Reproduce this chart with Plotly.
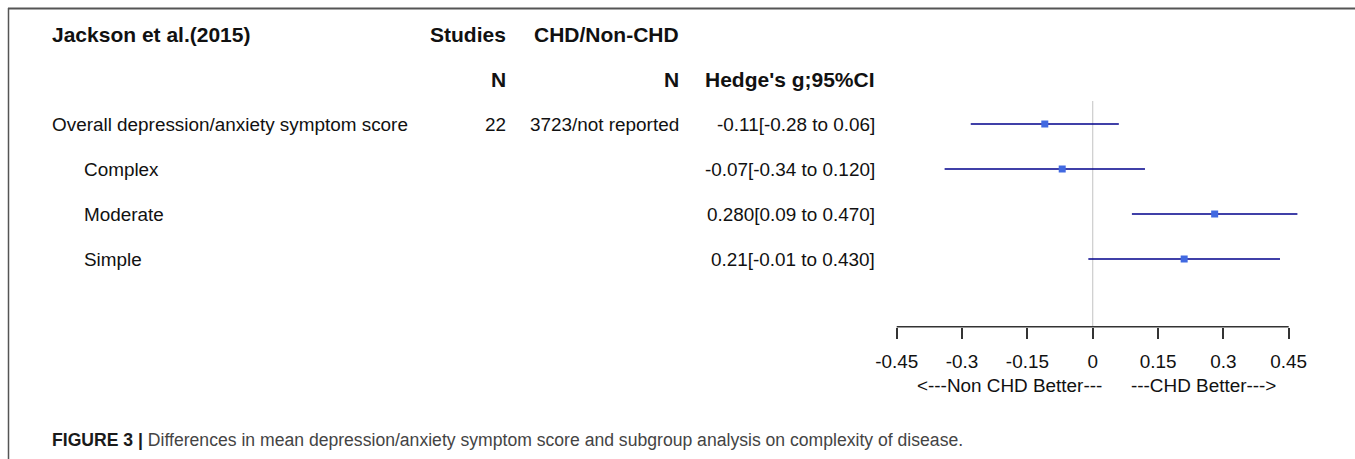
import plotly.graph_objects as go

# ---- data ----
labels = ["Overall depression/anxiety symptom score", "Complex", "Moderate", "Simple"]
indent = [False, True, True, True]
studies = ["22", "", "", ""]
n_chd = ["3723/not reported", "", "", ""]
est = [-0.11, -0.07, 0.28, 0.21]
lo = [-0.28, -0.34, 0.09, -0.01]
hi = [0.06, 0.12, 0.47, 0.43]
ci_text = ["-0.11[-0.28 to 0.06]", "-0.07[-0.34 to 0.120]", "0.280[0.09 to 0.470]", "0.21[-0.01 to 0.430]"]
tick_vals = [-0.45, -0.3, -0.15, 0, 0.15, 0.3, 0.45]
tick_text = ["-0.45", "-0.3", "-0.15", "0", "0.15", "0.3", "0.45"]
x_range = [-0.5, 0.5]

W, H = 1355, 459
FONT = "Liberation Sans, Arial, sans-serif"
FS = 18.9
FSB = 21
TXT = "#111111"

# pixel layout of the scale: 0 at x=1092.7 px, 435.56 px per unit
X0_PX = 1092.7
PX_PER_UNIT = 435.56
AXIS_Y_PX = 326.7

rows = list(range(len(labels)))

fig = go.Figure()

# reference line at 0
fig.add_trace(go.Scatter(x=[0, 0], y=[-0.51, 4.504], mode="lines",
                         line=dict(color="#cccccc", width=1.2), hoverinfo="skip", showlegend=False))

# CIs + points
fig.add_trace(go.Scatter(
    x=est, y=rows, mode="markers",
    marker=dict(symbol="square", size=7, color="#4169e1", line=dict(width=0)),
    error_x=dict(type="data", symmetric=False,
                 array=[h - e for h, e in zip(hi, est)],
                 arrayminus=[e - l for e, l in zip(est, lo)],
                 color="#00008b", thickness=1.7, width=0),
    showlegend=False, hoverinfo="skip"))

ann = []
def px(x):
    return x / W

LEFT = 50      # annotation pad compensation
LEFT_IND = 82
C_STUD = 508
C_N = 681
C_CI = 877

bold_font = dict(size=FSB, color=TXT, family=FONT)
# header
ann.append(dict(x=px(LEFT), y=-2, xref="paper", yref="y", text="<b>Jackson et al.(2015)</b>", xanchor="left", font=bold_font))
ann.append(dict(x=px(C_STUD), y=-2, xref="paper", yref="y", text="<b>Studies</b>", xanchor="right", font=bold_font))
ann.append(dict(x=px(C_N), y=-2, xref="paper", yref="y", text="<b>CHD/Non-CHD</b>", xanchor="right", font=bold_font))
ann.append(dict(x=px(C_STUD), y=-1, xref="paper", yref="y", text="<b>N</b>", xanchor="right", font=bold_font))
ann.append(dict(x=px(C_N), y=-1, xref="paper", yref="y", text="<b>N</b>", xanchor="right", font=bold_font))
ann.append(dict(x=px(C_CI), y=-1, xref="paper", yref="y", text="<b>Hedge's g;95%CI</b>", xanchor="right", font=bold_font))

for i, lab in enumerate(labels):
    ann.append(dict(x=px(LEFT_IND if indent[i] else LEFT), y=i, xref="paper", yref="y", text=lab, xanchor="left"))
    if studies[i]:
        ann.append(dict(x=px(C_STUD), y=i, xref="paper", yref="y", text=studies[i], xanchor="right"))
    if n_chd[i]:
        ann.append(dict(x=px(C_N), y=i, xref="paper", yref="y", text=n_chd[i], xanchor="right"))
    ann.append(dict(x=px(C_CI), y=i, xref="paper", yref="y", text=ci_text[i], xanchor="right"))

# direction labels
ann.append(dict(x=px(1104), y=1 - 385 / H, xref="paper", yref="paper",
                text="<---Non CHD Better---", xanchor="right", yanchor="middle"))
ann.append(dict(x=px(1129), y=1 - 385 / H, xref="paper", yref="paper",
                text="---CHD Better--->", xanchor="left", yanchor="middle"))

# caption
ann.append(dict(x=px(LEFT), y=1 - 440 / H, xref="paper", yref="paper",
                text="<b>FIGURE 3 |</b> <span style='color:#444444'>Differences in mean depression/anxiety symptom score and subgroup analysis on complexity of disease.</span>",
                xanchor="left", yanchor="middle", font=dict(size=17.6, color="#1a1a1a", family=FONT)))

for a in ann:
    a.setdefault("showarrow", False)
    a.setdefault("yanchor", "middle")
    a.setdefault("font", dict(size=FS, color=TXT, family=FONT))

# frame lines + axis line (R-style: from first to last tick only)
shapes = [
    dict(type="line", xref="paper", yref="paper", x0=px(8), x1=1, y0=1 - 8.5 / H, y1=1 - 8.5 / H,
         line=dict(color="#555555", width=2)),
    dict(type="line", xref="paper", yref="paper", x0=px(8.5), x1=px(8.5), y0=0, y1=1 - 8 / H,
         line=dict(color="#555555", width=1.5)),
    dict(type="line", xref="x", yref="paper", x0=tick_vals[0], x1=tick_vals[-1],
         y0=1 - AXIS_Y_PX / H, y1=1 - AXIS_Y_PX / H, line=dict(color="#333333", width=1.5)),
]

row_px0 = 124
row_step = 45

dom0 = (X0_PX + x_range[0] * PX_PER_UNIT) / W
dom1 = (X0_PX + x_range[1] * PX_PER_UNIT) / W

fig.update_layout(
    template="none",
    width=W, height=H,
    margin=dict(l=0, r=0, t=0, b=0, pad=0, autoexpand=False),
    paper_bgcolor="white", plot_bgcolor="white",
    font=dict(family=FONT, size=FS, color=TXT),
    annotations=ann, shapes=shapes,
    xaxis=dict(domain=[dom0, dom1], range=x_range, anchor="free",
               position=1 - AXIS_Y_PX / H, side="bottom", automargin=False,
               showline=False,
               ticks="outside", ticklen=11, tickwidth=1.5, tickcolor="#333333",
               tickvals=tick_vals, ticktext=tick_text, ticklabelstandoff=7,
               tickfont=dict(size=FS, color=TXT, family=FONT),
               showgrid=False, zeroline=False, fixedrange=True),
    yaxis=dict(domain=[0, 1], range=[(H - row_px0) / row_step, -row_px0 / row_step],
               visible=False, automargin=False, showgrid=False, zeroline=False, fixedrange=True),
    showlegend=False,
)

fig.write_html("out.html", config={"displayModeBar": False},
               post_script="document.body.style.margin='0';document.body.style.overflow='hidden';")
